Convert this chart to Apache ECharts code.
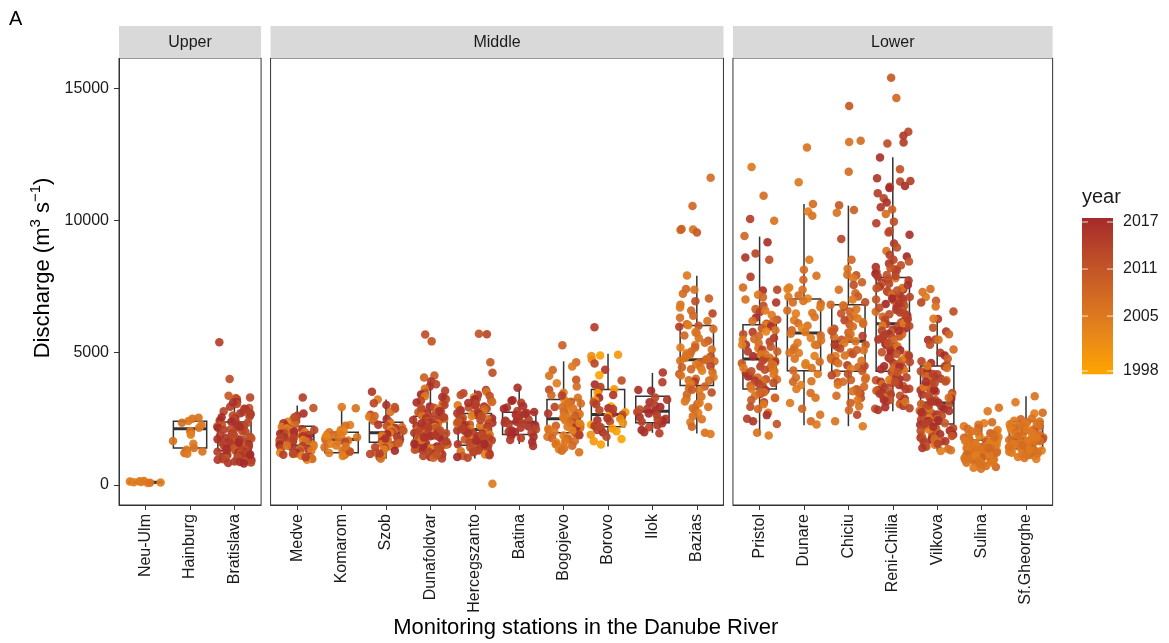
<!DOCTYPE html>
<html><head><meta charset="utf-8">
<script src="https://cdn.jsdelivr.net/npm/echarts@6/dist/echarts.min.js"></script>
<style>html,body{margin:0;padding:0;background:#fff}#c{width:1169px;height:643px}</style>
</head><body><div id="c"></div>
<script>
// ---------------- DATA ----------------
const facetNames = ['Upper', 'Middle', 'Lower'];
const stationsUpper = ['Neu-Ulm', 'Hainburg', 'Bratislava'];
const stationsMiddle = ['Medve', 'Komarom', 'Szob', 'Dunafoldvar', 'Hercegszanto', 'Batina', 'Bogojevo', 'Borovo', 'Ilok', 'Bazias'];
const stationsLower = ['Pristol', 'Dunare', 'Chiciu', 'Reni-Chilia', 'Vilkova', 'Sulina', 'Sf.Gheorghe'];
// box stats: [min, Q1, median, Q3, max]
const boxUpper = [[50, 80, 100, 120, 160], [1230, 1400, 2120, 2410, 2570], [800, 1300, 1700, 2380, 3300]];
const boxMiddle = [[1090, 1500, 1870, 2220, 3000], [1100, 1216, 1718, 1994, 2926], [990, 1616, 1971, 2371, 3228],
  [1000, 1500, 1950, 2600, 4020], [1000, 1500, 2100, 2700, 3600], [1550, 1907, 2371, 2749, 3670],
  [1239, 1971, 2500, 3228, 4675], [1450, 2198, 2662, 3606, 4966], [1971, 2349, 2787, 3353, 4237], [1945, 3757, 4739, 6034, 7911]];
const boxLower = [[1869, 3632, 4765, 6061, 9395], [2258, 4323, 5747, 7031, 10629], [2220, 4297, 5430, 6816, 10566],
  [2787, 4300, 6100, 7850, 12392], [1276, 2300, 3100, 4500, 6276], [640, 1150, 1500, 1700, 2371], [963, 1367, 1745, 2409, 3353]];
const yTicks = [0, 5000, 10000, 15000];
const yearTicks = [1998, 2005, 2011, 2017];

// points: [discharge, year]
const ptsNeuUlm = [[90,2004],[125,2005],[70,2004],[110,2003],[145,2005],[80,2006],[100,2004],[135,2005]];
const ptsHainburg = [[2540,2006],[2500,2006],[2420,2005],[2350,2007],[2270,2006],[2160,2005],[2040,2006],[1990,2007],[1900,2004],[1660,2006],[1560,2005],[1400,2006],[1330,2005],[1260,2006],[1210,2007],[1180,2005]];
const ptsBratislava = [[5400,2014],[4010,2012],[3370,2010],[3310,2013],[3290,2009],[3240,2015],[3210,2011],[3140,2016],[3060,2012],[2960,2014],[2910,2011],[2860,2016],[2790,2013],[2760,2010],[2710,2015],[2670,2017],[2630,2012],[2590,2014],[2560,2011],[2510,2016],[2470,2013],[2440,2009],[2430,2015],[2390,2017],[2360,2012],[2310,2014],[2290,2010],[2270,2016],[2220,2013],[2210,2011],[2170,2015],[2160,2017],[2110,2012],[2090,2014],[2070,2016],[2030,2010],[2010,2013],[1970,2015],[1960,2011],[1930,2017],[1890,2012],[1880,2014],[1840,2016],[1830,2009],[1810,2013],[1770,2015],[1760,2011],[1720,2017],[1710,2012],[1690,2014],[1640,2016],[1620,2010],[1610,2013],[1590,2015],[1550,2011],[1530,2017],[1520,2012],[1480,2014],[1460,2016],[1450,2013],[1430,2015],[1390,2011],[1370,2017],[1350,2012],[1330,2014],[1310,2010],[1290,2016],[1270,2013],[1240,2015],[1220,2017],[1210,2012],[1170,2014],[1160,2011],[1130,2016],[1110,2013],[1090,2015],[1070,2017],[1050,2012],[1030,2014],[1010,2010],[990,2016],[970,2013],[950,2015],[930,2017],[910,2012],[890,2014],[870,2016],[850,2013],[830,2015],[810,2017],[2880,2015],[2560,2017],[2200,2016],[1910,2013],[1600,2017],[1250,2014],[3120,2016],[2730,2014],[1150,2017],[1730,2016]];
const ptsMedve = [[3310,2014],[2910,2011],[2620,2015],[2480,2006],[2420,2013],[2390,2004],[2330,2016],[2280,2007],[2250,2012],[2230,2017],[2190,2005],[2170,2014],[2130,2003],[2110,2016],[2080,2013],[2050,2006],[2020,2015],[1990,2004],[1960,2012],[1940,2017],[1920,2007],[1890,2014],[1870,2005],[1840,2016],[1830,2013],[1800,2003],[1790,2015],[1760,2006],[1740,2012],[1730,2017],[1700,2004],[1690,2014],[1650,2007],[1640,2016],[1620,2013],[1590,2005],[1570,2015],[1550,2012],[1520,2006],[1500,2017],[1470,2014],[1450,2004],[1410,2016],[1380,2013],[1360,2007],[1330,2015],[1290,2005],[1260,2012],[1220,2003],[1200,2017],[1170,2006],[1140,2014],[1100,2004],[1060,2016],[1020,2005],[980,2007],[950,2003],[2560,2012],[2010,2016],[1770,2014],[1480,2006],[1190,2013],[2700,2016],[1050,2014]];
const ptsKomarom = [[2950,2005],[2900,2006],[2270,2004],[2240,2007],[2080,2005],[2030,2003],[1990,2006],[1940,2004],[1880,2007],[1850,2005],[1800,2006],[1770,2003],[1730,2004],[1700,2007],[1680,2005],[1620,2006],[1560,2004],[1490,2005],[1420,2007],[1360,2003],[1300,2006],[1250,2004],[1210,2005],[1170,2007],[1130,2006],[1090,2004],[1620,2013],[1260,2012],[1860,2003],[1450,2006]];
const ptsSzob = [[3520,2015],[3230,2005],[3090,2013],[3020,2016],[2880,2012],[2760,2006],[2650,2014],[2580,2004],[2490,2017],[2430,2007],[2380,2013],[2320,2005],[2280,2015],[2230,2012],[2190,2006],[2150,2016],[2110,2003],[2070,2014],[2030,2007],[1990,2013],[1960,2005],[1930,2017],[1890,2012],[1850,2006],[1810,2015],[1770,2004],[1730,2014],[1690,2007],[1650,2016],[1610,2013],[1560,2005],[1510,2012],[1460,2006],[1400,2015],[1350,2004],[1290,2017],[1230,2007],[1170,2013],[1110,2005],[1050,2016],[990,2006],[2610,2008],[2050,2010],[1580,2009],[1190,2014],[2950,2011],[1760,2016],[1420,2013]];
const ptsDunafoldvar = [[5690,2012],[5430,2011],[4140,2010],[4060,2009],[3920,2015],[3810,2013],[3720,2016],[3640,2006],[3560,2014],[3480,2012],[3420,2017],[3350,2005],[3290,2015],[3240,2011],[3180,2013],[3120,2016],[3070,2008],[3020,2014],[2970,2017],[2920,2012],[2880,2005],[2840,2015],[2790,2013],[2750,2010],[2710,2016],[2670,2014],[2630,2006],[2590,2012],[2560,2017],[2520,2015],[2490,2004],[2450,2013],[2420,2011],[2380,2016],[2350,2014],[2320,2007],[2290,2012],[2260,2017],[2230,2015],[2200,2005],[2170,2013],[2140,2010],[2110,2016],[2080,2014],[2050,2006],[2020,2012],[1990,2017],[1960,2015],[1930,2004],[1900,2013],[1870,2011],[1840,2016],[1810,2014],[1780,2007],[1750,2012],[1720,2017],[1690,2015],[1660,2005],[1630,2013],[1600,2010],[1570,2016],[1540,2014],[1510,2006],[1480,2012],[1450,2017],[1420,2015],[1390,2004],[1360,2013],[1330,2011],[1300,2016],[1270,2014],[1240,2007],[1210,2012],[1180,2017],[1150,2015],[1120,2005],[1090,2013],[1060,2016],[1030,2008],[1000,2014],[2610,2013],[2330,2016],[2070,2012],[1870,2015],[1640,2014],[1440,2017],[1250,2013],[2790,2016],[2460,2015],[1950,2012],[1700,2006],[1540,2017],[2170,2014],[2900,2012],[3330,2016],[1370,2012],[1130,2011],[2560,2014],[2010,2013],[1790,2016]];
const ptsHercegszanto = [[5720,2011],[5700,2013],[4640,2010],[4240,2012],[40,2005],[3590,2015],[3520,2006],[3470,2013],[3410,2016],[3360,2012],[3320,2004],[3270,2014],[3230,2017],[3180,2011],[3140,2007],[3090,2015],[3050,2013],[3010,2005],[2970,2016],[2930,2012],[2890,2014],[2860,2008],[2820,2017],[2780,2013],[2750,2006],[2710,2015],[2680,2011],[2640,2016],[2610,2004],[2570,2014],[2540,2012],[2510,2017],[2480,2007],[2440,2013],[2410,2015],[2380,2005],[2350,2016],[2320,2012],[2290,2010],[2260,2014],[2230,2006],[2200,2017],[2170,2013],[2140,2015],[2110,2004],[2080,2011],[2050,2016],[2020,2012],[1990,2008],[1960,2014],[1930,2017],[1900,2005],[1870,2013],[1840,2015],[1810,2006],[1780,2012],[1750,2016],[1720,2010],[1690,2014],[1660,2004],[1630,2017],[1600,2013],[1570,2007],[1540,2015],[1510,2011],[1480,2016],[1450,2005],[1420,2012],[1390,2014],[1360,2008],[1330,2017],[1300,2013],[1270,2006],[1240,2015],[1210,2012],[1180,2016],[1150,2004],[1120,2014],[1090,2010],[1060,2017],[1030,2013],[3000,2014],[2700,2016],[2460,2013],[2250,2017],[2060,2015],[1880,2012],[1680,2016],[1490,2014],[1280,2013],[3400,2012],[2800,2015],[2330,2006],[1950,2016],[1770,2013],[2600,2012],[2150,2014],[1550,2017],[3100,2016],[2380,2011]];
const ptsBatina = [[3680,2016],[3200,2015],[3180,2017],[3110,2014],[2980,2016],[2930,2015],[2880,2017],[2800,2014],[2760,2016],[2720,2015],[2650,2017],[2600,2013],[2560,2016],[2510,2015],[2470,2014],[2430,2017],[2390,2016],[2350,2015],[2300,2014],[2260,2017],[2210,2016],[2160,2015],[2110,2013],[2060,2017],[2010,2016],[1960,2014],[1910,2015],[1870,2017],[1820,2016],[1770,2014],[1700,2015],[1620,2017],[1470,2016],[2330,2014],[2680,2016],[1990,2017]];
const ptsBogojevo = [[5280,2009],[4640,2007],[4480,2005],[4350,2008],[4130,2006],[3980,2010],[3850,2004],[3720,2007],[3600,2012],[3490,2005],[3390,2008],[3300,2006],[3220,2003],[3150,2009],[3080,2007],[3010,2005],[2950,2013],[2890,2006],[2830,2004],[2770,2008],[2720,2007],[2670,2005],[2620,2010],[2570,2006],[2520,2003],[2480,2008],[2440,2005],[2400,2007],[2360,2012],[2320,2006],[2280,2004],[2240,2009],[2200,2005],[2160,2007],[2120,2003],[2080,2006],[2040,2008],[2000,2005],[1960,2011],[1920,2007],[1870,2004],[1820,2006],[1770,2009],[1720,2005],[1660,2007],[1600,2003],[1540,2006],[1480,2008],[1420,2005],[1350,2004],[1290,2007],[1240,2006],[3380,2014],[2700,2015],[2180,2016],[1880,2014],[2560,2005],[2950,2007],[2330,2004],[1760,2008],[1400,2006],[3100,2006],[2060,2004],[1650,2005]];
const ptsBorovo = [[5960,2014],[4900,1999],[4880,2001],[4920,2000],[4740,2002],[4590,2013],[4360,2015],[4150,1998],[3950,2012],[3800,2016],[3700,2014],[3620,2000],[3550,2013],[3480,1999],[3400,2015],[3300,2017],[3200,2001],[3120,2012],[3050,2014],[2970,1998],[2900,2016],[2820,2013],[2750,2000],[2700,2015],[2650,2012],[2600,1999],[2560,2014],[2500,2002],[2450,2016],[2400,2013],[2340,2001],[2280,1998],[2230,2015],[2180,2012],[2130,2000],[2080,2014],[2030,1999],[1980,2016],[1900,2001],[1820,2013],[1740,1998],[1650,2000],[1530,1999],[2870,2014],[2520,2015],[2200,2013]];
const ptsIlok = [[4250,2015],[3880,2014],[3590,2016],[3560,2017],[3310,2013],[3220,2015],[3130,2016],[3020,2014],[2950,2017],[2880,2015],[2810,2016],[2760,2013],[2700,2017],[2640,2014],[2570,2016],[2500,2015],[2440,2017],[2390,2014],[2330,2016],[2260,2015],[2180,2013],[2080,2017],[1990,2016],[1950,2014],[2850,2012],[2470,2013]];
const ptsBazias = [[11620,2007],[10550,2008],[9660,2006],[9640,2007],[9680,2009],[9550,2010],[7920,2005],[7410,2008],[7380,2006],[7230,2007],[7050,2009],[6950,2012],[6820,2006],[6710,2005],[6600,2008],[6480,2013],[6320,2007],[6200,2006],[6080,2009],[6040,2004],[6020,2011],[5980,2014],[5900,2007],[5780,2005],[5650,2008],[5560,2006],[5450,2010],[5380,2007],[5290,2005],[5200,2009],[5120,2006],[5050,2008],[4980,2004],[4920,2007],[4860,2012],[4800,2005],[4760,2006],[4720,2008],[4680,2007],[4620,2009],[4560,2005],[4500,2013],[4440,2006],[4380,2008],[4320,2004],[4260,2007],[4200,2010],[4140,2006],[4080,2005],[4020,2008],[3960,2007],[3900,2015],[3840,2006],[3780,2004],[3720,2009],[3650,2007],[3580,2005],[3500,2012],[3420,2008],[3340,2006],[3260,2007],[3160,2005],[3060,2009],[2950,2006],[2840,2008],[2720,2004],[2600,2007],[2480,2006],[2370,2005],[2200,2008],[1970,2006],[1930,2005],[4700,2006],[5200,2004],[3950,2007],[4450,2009],[5750,2006],[3100,2005],[6400,2008],[4900,2006],[3600,2010],[2900,2007]];
const ptsPristol = [[12030,2005],[10940,2007],[10060,2014],[9990,2006],[9420,2008],[9180,2016],[8750,2013],[8600,2015],[8520,2012],[7870,2014],[7470,2007],[7380,2013],[7350,2016],[7190,2005],[7100,2008],[7010,2006],[6900,2015],[6780,2012],[6650,2009],[6540,2014],[6430,2005],[6330,2017],[6250,2011],[6170,2007],[6100,2013],[6050,2004],[5990,2016],[5920,2010],[5850,2006],[5780,2014],[5700,2012],[5630,2008],[5560,2015],[5490,2005],[5420,2013],[5360,2007],[5300,2016],[5230,2011],[5170,2006],[5110,2014],[5050,2009],[4990,2012],[4930,2005],[4870,2017],[4810,2007],[4760,2013],[4710,2006],[4650,2015],[4600,2010],[4540,2004],[4480,2014],[4420,2008],[4360,2012],[4300,2006],[4240,2016],[4180,2005],[4120,2013],[4060,2007],[4000,2011],[3940,2015],[3880,2006],[3820,2014],[3760,2009],[3700,2012],[3640,2005],[3580,2016],[3510,2007],[3440,2013],[3370,2006],[3290,2015],[3210,2010],[3130,2014],[3050,2005],[2960,2012],[2870,2008],[2730,2006],[2640,2016],[2500,2014],[2410,2015],[2300,2011],[1970,2006],[1870,2005],[5520,2007],[4950,2006],[4420,2005],[3990,2007],[5300,2004],[4700,2013],[6200,2006],[3500,2008],[4100,2016],[5800,2003],[4580,2007],[3860,2012],[6600,2005],[5050,2014],[4300,2012],[3300,2007]];
const ptsDunare = [[12760,2006],[11450,2005],[10630,2007],[10340,2004],[10180,2006],[8520,2005],[8140,2007],[7910,2006],[7760,2008],[7470,2005],[7410,2004],[7380,2006],[7170,2007],[7120,2005],[7050,2003],[6960,2006],[6850,2008],[6720,2005],[6600,2007],[6480,2004],[6350,2006],[6230,2005],[6120,2007],[6020,2006],[5930,2003],[5850,2008],[5780,2005],[5720,2006],[5650,2007],[5560,2004],[5470,2006],[5380,2005],[5290,2008],[5200,2006],[5100,2007],[4990,2005],[4880,2004],[4770,2006],[4660,2007],[4540,2005],[4420,2006],[4330,2008],[4200,2005],[4060,2007],[3920,2006],[3780,2004],[3630,2005],[3480,2007],[3300,2006],[3100,2005],[2880,2008],[2650,2006],[2410,2007],[2290,2005],[6500,2006],[5300,2005],[4600,2004],[3900,2008],[6900,2007],[5000,2006]];
const ptsChiciu = [[14330,2010],[13020,2007],[12970,2006],[11850,2007],[10580,2010],[10400,2009],[10300,2006],[9300,2013],[8520,2008],[8180,2006],[7950,2007],[7930,2011],[7820,2005],[7670,2009],[7560,2012],[7380,2006],[7250,2008],[7130,2010],[7010,2005],[6910,2012],[6820,2007],[6740,2014],[6650,2006],[6560,2009],[6480,2011],[6390,2005],[6310,2008],[6230,2013],[6150,2006],[6070,2010],[5990,2007],[5910,2012],[5840,2005],[5770,2009],[5700,2006],[5630,2014],[5560,2008],[5490,2011],[5430,2006],[5370,2005],[5300,2010],[5230,2007],[5160,2013],[5090,2006],[5020,2008],[4950,2012],[4880,2005],[4810,2009],[4740,2007],[4670,2011],[4600,2006],[4530,2014],[4460,2008],[4390,2005],[4310,2010],[4230,2007],[4150,2013],[4060,2006],[3970,2009],[3880,2012],[3790,2005],[3710,2008],[3620,2011],[3540,2006],[3460,2014],[3370,2007],[3290,2012],[3200,2005],[3100,2009],[2980,2006],[2820,2008],[2650,2013],[2410,2006],[2220,2005],[5600,2007],[4900,2006],[6300,2005],[4200,2012],[3900,2007],[5100,2009],[6800,2006],[4500,2013],[3500,2008],[5800,2011],[6100,2007],[4700,2006],[5300,2015],[4000,2007]];
const ptsReniChilia = [[15400,2010],[14640,2008],[13360,2013],[13210,2015],[12950,2014],[12920,2012],[12390,2016],[11940,2011],[11600,2015],[11500,2014],[11480,2013],[11310,2016],[11280,2012],[11230,2017],[11030,2014],[10840,2013],[10680,2016],[10500,2015],[10420,2009],[10250,2007],[9960,2012],[9900,2014],[9610,2011],[9550,2013],[9460,2016],[9130,2015],[8980,2012],[8850,2006],[8700,2014],[8640,2017],[8520,2013],[8450,2011],[8380,2015],[8310,2012],[8240,2016],[8170,2008],[8120,2014],[8060,2013],[7990,2017],[7940,2011],[7880,2015],[7820,2005],[7770,2012],[7730,2014],[7660,2016],[7610,2013],[7570,2009],[7500,2015],[7440,2011],[7390,2017],[7330,2014],[7290,2012],[7220,2007],[7170,2016],[7110,2013],[7060,2015],[7010,2011],[6950,2014],[6890,2006],[6840,2017],[6790,2012],[6730,2016],[6690,2013],[6620,2015],[6570,2010],[6520,2014],[6460,2012],[6410,2017],[6360,2008],[6300,2015],[6250,2013],[6190,2016],[6140,2011],[6090,2014],[6030,2005],[5980,2012],[5920,2017],[5870,2015],[5830,2013],[5770,2009],[5720,2016],[5660,2014],[5610,2011],[5560,2012],[5500,2015],[5450,2007],[5400,2017],[5340,2013],[5290,2016],[5240,2014],[5180,2010],[5130,2012],[5080,2015],[5020,2011],[4970,2017],[4920,2006],[4860,2013],[4810,2016],[4760,2014],[4700,2012],[4650,2008],[4600,2015],[4540,2011],[4490,2017],[4440,2013],[4380,2016],[4330,2005],[4280,2014],[4220,2012],[4170,2015],[4120,2009],[4060,2013],[4010,2017],[3960,2011],[3900,2016],[3850,2014],[3800,2007],[3740,2012],[3690,2015],[3640,2013],[3580,2017],[3530,2010],[3480,2016],[3420,2014],[3370,2012],[3320,2006],[3260,2015],[3210,2011],[3160,2013],[3100,2017],[3050,2008],[2990,2014],[2940,2016],[2880,2012],[2830,2015],[7450,2006],[6980,2009],[6550,2007],[6120,2005],[5700,2008],[5250,2006],[4830,2004],[4400,2007],[3980,2005],[3560,2009],[3140,2006],[7900,2013],[7350,2011],[6860,2015],[6280,2014],[5830,2016],[5360,2012],[4900,2014],[4470,2016],[4040,2015],[3620,2014],[3210,2016],[2900,2013],[8200,2011],[7560,2016],[6470,2013],[5090,2017],[4260,2011],[3450,2015],[6700,2012],[5570,2014],[4650,2013],[3780,2016],[7050,2017],[6010,2013],[4950,2011],[3890,2012]];
const ptsVilkova = [[7410,2007],[7300,2006],[7110,2005],[6970,2010],[6900,2013],[6750,2006],[6560,2012],[6280,2014],[6290,2005],[5950,2011],[5800,2015],[5700,2008],[5500,2013],[5490,2006],[5480,2016],[5300,2012],[5120,2007],[5000,2014],[4900,2017],[4770,2009],[4680,2013],[4610,2016],[4550,2011],[4480,2014],[4420,2007],[4360,2015],[4300,2012],[4250,2017],[4190,2013],[4130,2010],[4080,2016],[4020,2014],[3960,2005],[3910,2012],[3850,2015],[3800,2011],[3750,2017],[3690,2013],[3640,2008],[3580,2016],[3530,2014],[3480,2012],[3420,2015],[3370,2006],[3320,2013],[3270,2017],[3210,2011],[3160,2014],[3110,2016],[3060,2009],[3010,2012],[2960,2015],[2910,2013],[2860,2017],[2810,2007],[2760,2014],[2710,2011],[2660,2016],[2610,2012],[2560,2015],[2520,2005],[2470,2013],[2420,2017],[2370,2014],[2330,2010],[2280,2016],[2230,2012],[2190,2015],[2140,2013],[2100,2008],[2050,2017],[2010,2014],[1960,2011],[1920,2016],[1870,2006],[1830,2013],[1780,2015],[1740,2012],[1700,2017],[1650,2009],[1610,2014],[1570,2016],[1520,2005],[1480,2013],[1440,2011],[1400,2015],[1360,2007],[1310,2006],[1280,2004],[4500,2006],[4100,2008],[3700,2005],[3300,2007],[2900,2006],[2500,2009],[2100,2004],[1750,2007],[3900,2016],[3400,2012],[2800,2015],[2300,2014],[1900,2017],[1550,2013],[4200,2014],[3600,2017],[3000,2013],[2650,2012],[2200,2016],[1850,2011],[1650,2015],[2450,2017],[3150,2015],[3850,2013],[2750,2016],[2050,2012]];
const ptsSulina = [[2920,2006],[2790,2005],[2370,2007],[2330,2004],[2280,2006],[2220,2005],[2150,2008],[2120,2007],[2080,2004],[2030,2006],[1990,2005],[1950,2009],[1910,2007],[1880,2006],[1840,2004],[1810,2005],[1780,2008],[1750,2006],[1720,2007],[1700,2005],[1670,2004],[1650,2006],[1620,2010],[1600,2007],[1580,2005],[1560,2006],[1540,2008],[1520,2004],[1500,2007],[1480,2006],[1460,2005],[1440,2009],[1420,2007],[1400,2006],[1380,2004],[1360,2005],[1340,2008],[1320,2006],[1300,2007],[1280,2005],[1260,2004],[1240,2006],[1220,2011],[1200,2007],[1180,2005],[1160,2006],[1140,2008],[1120,2004],[1100,2007],[1080,2006],[1060,2005],[1040,2009],[1020,2006],[1000,2007],[980,2004],[960,2005],[940,2006],[920,2008],[900,2007],[870,2005],[840,2006],[810,2004],[780,2007],[750,2005],[720,2006],[680,2008],[650,2005],[610,2006],[1710,2006],[1550,2007],[1450,2005],[1350,2006],[1250,2008],[1150,2005],[1050,2007],[950,2006],[850,2005],[1610,2004],[1410,2006],[1210,2005],[1010,2006],[1800,2007],[1510,2005],[1310,2006],[1110,2004],[910,2006],[2000,2006],[1660,2005],[1230,2007],[1380,2008]];
const ptsSfGheorghe = [[3350,2006],[3130,2005],[2730,2007],[2700,2004],[2510,2006],[2480,2008],[2430,2005],[2400,2006],[2370,2007],[2330,2005],[2290,2004],[2250,2006],[2210,2008],[2180,2005],[2140,2007],[2110,2006],[2070,2004],[2040,2010],[2000,2005],[1970,2007],[1940,2006],[1910,2005],[1880,2008],[1850,2004],[1820,2006],[1790,2007],[1760,2005],[1730,2012],[1700,2006],[1670,2004],[1640,2007],[1610,2005],[1580,2006],[1550,2008],[1520,2005],[1490,2007],[1460,2006],[1430,2004],[1400,2005],[1370,2006],[1340,2013],[1310,2007],[1280,2005],[1250,2006],[1220,2004],[1190,2008],[1160,2005],[1130,2006],[1100,2007],[1060,2005],[1020,2006],[980,2004],[2200,2006],[1950,2005],[1750,2007],[1600,2006],[1450,2005],[1300,2004],[1150,2006],[2050,2007],[1800,2005],[1650,2006],[1500,2007],[1350,2005],[1200,2006],[1900,2004],[1700,2008],[1550,2005],[2300,2006],[2100,2005],[1850,2007],[1250,2005],[1420,2006],[1780,2005]];

// ---------------- BUILD ----------------
const facetStations = [stationsUpper, stationsMiddle, stationsLower];
const facetBoxes = [boxUpper, boxMiddle, boxLower];
const facetPoints = [
  [ptsNeuUlm, ptsHainburg, ptsBratislava],
  [ptsMedve, ptsKomarom, ptsSzob, ptsDunafoldvar, ptsHercegszanto, ptsBatina, ptsBogojevo, ptsBorovo, ptsIlok, ptsBazias],
  [ptsPristol, ptsDunare, ptsChiciu, ptsReniChilia, ptsVilkova, ptsSulina, ptsSfGheorghe]
];
const FONT = '"Liberation Sans", Arial, sans-serif';
const yMin = -760, yMax = 16150;
const panelTop = 58, panelH = 447;
const unit = 44.4;
const gap = 9.5;
const panelLeft0 = 119;
const yearColors = ['#FFA500', '#E8871A', '#D26A24', '#BC4C28', '#A52A2A'];

// deterministic horizontal jitter (presentation only)
function jit(i, s) {
  const v = Math.sin((i + 1) * 12.9898 + s * 78.233) * 43758.5453;
  return (v - Math.floor(v) - 0.5) * 0.8;
}

const grids = [], xAxes = [], yAxes = [], series = [], graphics = [];
let left = panelLeft0;
const panelBounds = [];
facetStations.forEach((names, g) => {
  const n = names.length;
  const w = (n + 0.2) * unit;
  panelBounds.push([left, w]);
  grids.push({left: left, top: panelTop, width: w, height: panelH, show: true, borderColor: '#333', borderWidth: 1, backgroundColor: '#fff'});
  const idx = names.map((_, i) => i);
  xAxes.push({
    gridIndex: g, type: 'value', min: -0.6, max: n - 0.4, position: 'bottom',
    axisLine: {show: true, onZero: false, lineStyle: {color: '#333', width: 1}}, splitLine: {show: false},
    axisTick: {show: true, customValues: idx, length: 5, lineStyle: {color: '#333', width: 1}},
    axisLabel: {show: true, customValues: idx, rotate: 90, margin: 9, fontSize: 16, color: '#1a1a1a', fontFamily: FONT,
      formatter: v => names[Math.round(v)] || ''}
  });
  yAxes.push({
    gridIndex: g, type: 'value', min: yMin, max: yMax, position: 'left',
    axisLine: {show: g === 0, onZero: false, lineStyle: {color: '#333', width: 1}}, splitLine: {show: false},
    axisTick: {show: g === 0, customValues: yTicks, length: 5, lineStyle: {color: '#333', width: 1}},
    axisLabel: {show: g === 0, customValues: yTicks, margin: 10, fontSize: 16, color: '#1a1a1a', fontFamily: FONT,
      formatter: v => String(Math.round(v))}
  });
  // strip
  graphics.push({type: 'rect', shape: {x: left, y: 26, width: w, height: panelTop - 26}, style: {fill: '#D9D9D9'}, z: 1});
  graphics.push({type: 'text', x: left + w / 2, y: 42.5, style: {text: facetNames[g], fontSize: 16, fontFamily: FONT, fill: '#1a1a1a', align: 'center', verticalAlign: 'middle'}, z: 2});
  left += w + gap;
});

facetBoxes.forEach((boxes, g) => {
  series.push({
    type: 'custom', xAxisIndex: g, yAxisIndex: g, z: 2, silent: true,
    data: boxes.map((b, i) => [i].concat(b)),
    encode: {x: 0, y: [1, 2, 3, 4, 5]},
    renderItem: function (params, api) {
      const i = api.value(0);
      const pMin = api.coord([i, api.value(1)]);
      const pQ1 = api.coord([i, api.value(2)]);
      const pMed = api.coord([i, api.value(3)]);
      const pQ3 = api.coord([i, api.value(4)]);
      const pMax = api.coord([i, api.value(5)]);
      const w = api.size([0.75, 0])[0];
      const cx = pMed[0], x0 = cx - w / 2;
      const st = {stroke: '#333', lineWidth: 1.5, fill: null};
      return {type: 'group', children: [
        {type: 'line', shape: {x1: cx, y1: pQ3[1], x2: cx, y2: pMax[1]}, style: st},
        {type: 'line', shape: {x1: cx, y1: pQ1[1], x2: cx, y2: pMin[1]}, style: st},
        {type: 'rect', shape: {x: x0, y: pQ3[1], width: w, height: pQ1[1] - pQ3[1]}, style: {stroke: '#333', lineWidth: 1.5, fill: '#fff'}},
        {type: 'line', shape: {x1: x0, y1: pMed[1], x2: x0 + w, y2: pMed[1]}, style: {stroke: '#333', lineWidth: 3}}
      ]};
    }
  });
});

const scatterIdx = [];
facetPoints.forEach((stations, g) => {
  const data = [];
  stations.forEach((pts, k) => {
    pts.forEach((p, i) => data.push([k + jit(i, k + g * 13), p[0], p[1]]));
  });
  scatterIdx.push(series.length);
  series.push({
    type: 'scatter', xAxisIndex: g, yAxisIndex: g, z: 3, silent: true,
    symbol: 'circle', symbolSize: 8.5, large: false, progressive: 0,
    itemStyle: {opacity: 0.92},
    encode: {x: 0, y: 1},
    data: data
  });
});

// colour bar legend
const barX = 1082, barW = 31, yr2017 = 222, pxPerYear = 7.842;
const yearToY = yr => yr2017 + (2017 - yr) * pxPerYear;
const barTop = yearToY(2017.5), barBot = yearToY(1997.6);
graphics.push({type: 'text', x: barX, y: 197, style: {text: 'year', fontSize: 20, fontFamily: FONT, fill: '#1a1a1a', align: 'left', verticalAlign: 'middle'}});
graphics.push({type: 'rect', shape: {x: barX, y: barTop, width: barW, height: barBot - barTop},
  style: {fill: {type: 'linear', x: 0, y: 0, x2: 0, y2: 1, colorStops: yearColors.slice().reverse().map((c, i, a) => ({offset: i / (a.length - 1), color: c}))}}});
yearTicks.forEach(yr => {
  const ty = yearToY(yr);
  graphics.push({type: 'line', shape: {x1: barX, y1: ty, x2: barX + 6, y2: ty}, style: {stroke: 'rgba(255,255,255,0.8)', lineWidth: 1}});
  graphics.push({type: 'line', shape: {x1: barX + barW - 6, y1: ty, x2: barX + barW, y2: ty}, style: {stroke: 'rgba(255,255,255,0.8)', lineWidth: 1}});
  graphics.push({type: 'text', x: 1123, y: ty, style: {text: String(yr), fontSize: 16, fontFamily: FONT, fill: '#1a1a1a', align: 'left', verticalAlign: 'middle'}});
});

// titles
graphics.push({type: 'text', x: 9, y: 19, style: {text: 'A', fontSize: 20, fontFamily: FONT, fill: '#000', align: 'left', verticalAlign: 'middle'}});
const pEnd = panelBounds[2][0] + panelBounds[2][1];
graphics.push({type: 'text', x: (panelLeft0 + pEnd) / 2, y: 628, style: {text: 'Monitoring stations in the Danube River', fontSize: 22, fontFamily: FONT, fill: '#000', align: 'center', verticalAlign: 'middle'}});
graphics.push({type: 'text', x: 43, y: 268, rotation: Math.PI / 2,
  style: {text: '{a|Discharge (m}{s|3}{a| s}{s|−1}{a|)}', fontFamily: FONT, fill: '#000', align: 'center', verticalAlign: 'middle',
    rich: {a: {fontSize: 22, lineHeight: 30, verticalAlign: 'middle', fontFamily: FONT, fill: '#000'},
           s: {fontSize: 15, lineHeight: 15, verticalAlign: 'top', fontFamily: FONT, fill: '#000'}}}});

const chart = echarts.init(document.getElementById('c'), null, {renderer: 'canvas'});
chart.setOption({
  animation: false,
  backgroundColor: '#fff',
  grid: grids, xAxis: xAxes, yAxis: yAxes,
  visualMap: {type: 'continuous', show: false, dimension: 2, min: 1998, max: 2017, seriesIndex: scatterIdx, inRange: {color: yearColors}},
  series: series,
  graphic: graphics
});
</script></body></html>
